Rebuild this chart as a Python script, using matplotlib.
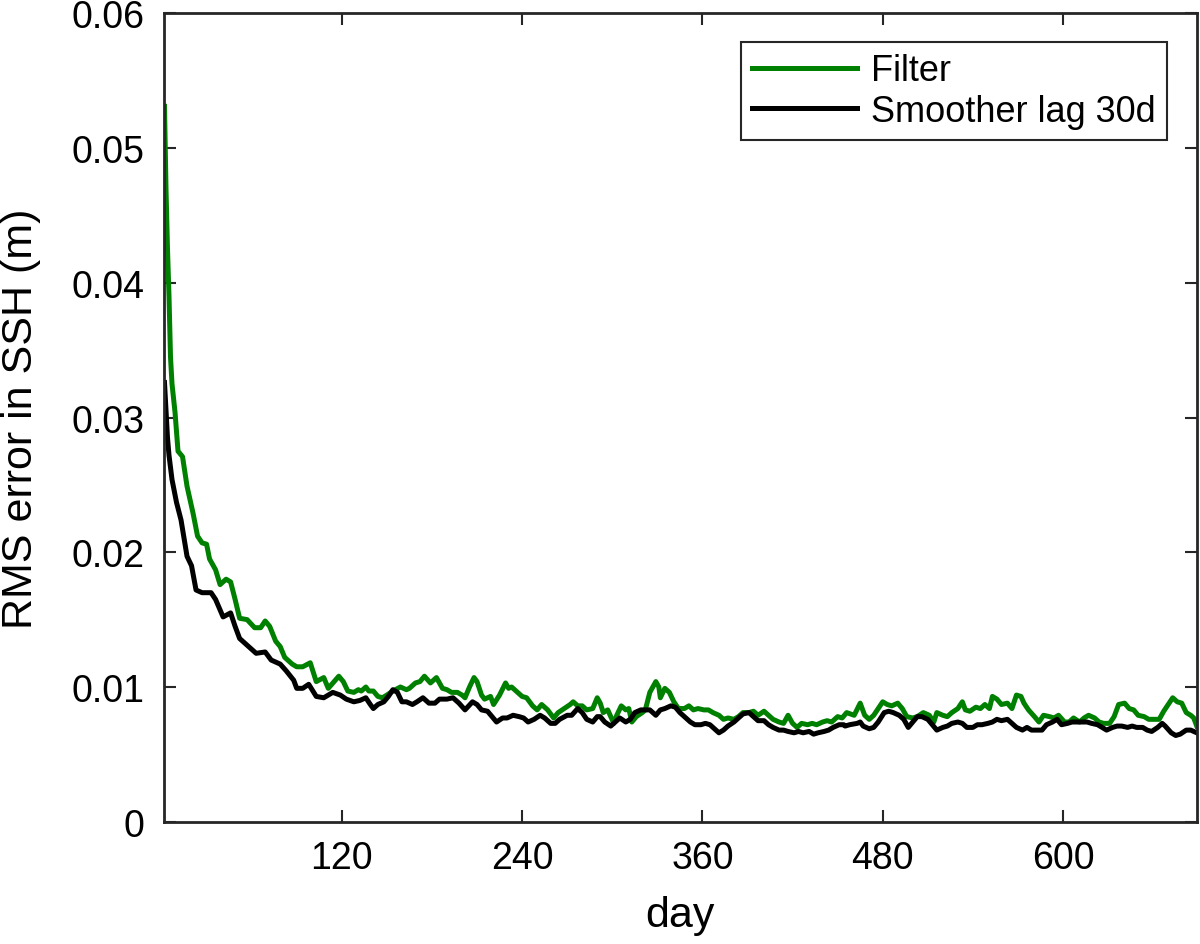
import matplotlib
matplotlib.use("Agg")
import matplotlib.pyplot as plt

plt.rcParams['font.family'] = ['Liberation Sans', 'DejaVu Sans']

# RMS error in SSH (m)
filter_days = [2, 3, 4, 5, 6, 7, 9, 11, 14, 17, 21, 24, 27, 30, 32, 36, 39, 43, 46, 49,
               52, 57, 62, 66, 69, 72, 76, 79, 82, 87, 90, 94, 99, 103, 108, 111, 118,
               121, 124, 128, 131, 133, 136, 138, 141, 144, 147, 150, 154, 159, 161, 163,
               165, 169, 172, 175, 179, 183, 187, 190, 193, 197, 200, 202, 205, 208, 210,
               213, 215, 219, 221, 225, 229, 231, 233, 237, 240, 243, 247, 250, 253, 257,
               261, 264, 268, 272, 274, 277, 280, 283, 287, 290,
               292, 294, 297, 299, 301, 303, 306, 309, 311, 313, 316, 320, 322, 325, 329,
               331, 332, 335, 338, 341, 344, 348, 351, 354, 357, 361, 364, 367, 371, 374,
               377, 381, 384, 387, 391, 394, 397, 401, 404, 407, 411, 414, 417, 420, 423,
               426, 430, 433, 436, 440, 443, 446, 450, 453, 456,
               461, 465, 468, 471, 474, 477, 480, 483, 486, 490, 493, 496, 500, 503, 507,
               511, 514, 516, 520, 523, 526, 530, 533, 535, 538, 542, 545, 548, 551, 553,
               556, 559, 563, 566, 569, 572, 574, 577, 581, 584, 587, 591, 594, 597, 601,
               604, 607, 611, 614, 617, 621, 624, 627, 631, 634, 637, 641, 644, 647, 650,
               654, 657, 660, 664, 667, 670, 673, 676, 679, 682, 685, 687, 689]
filter_rms = [0.0531, 0.0470, 0.0425, 0.0390, 0.0345, 0.0325, 0.0304, 0.0275, 0.0271, 0.0249,
              0.0229, 0.0212, 0.0207, 0.0206, 0.0195, 0.0187, 0.0176, 0.0180, 0.0178, 0.0165,
              0.0151, 0.0150, 0.0144, 0.0144, 0.0149, 0.0145, 0.0134, 0.0130, 0.0122, 0.0117,
              0.0115, 0.0115, 0.0118, 0.0104, 0.0107, 0.0099, 0.0108,
              0.0104, 0.0097, 0.0096, 0.0098, 0.0097, 0.0100, 0.0097, 0.0097, 0.0093, 0.0092,
              0.0094, 0.0097, 0.0100, 0.0099, 0.0098, 0.0099, 0.0103, 0.0104, 0.0108, 0.0103,
              0.0107, 0.0099, 0.0098, 0.0096, 0.0096, 0.0094, 0.0092, 0.0100, 0.0107, 0.0104,
              0.0094, 0.0091, 0.0093, 0.0087, 0.0094, 0.0103, 0.0099, 0.0100, 0.0096, 0.0093,
              0.0092, 0.0086, 0.0083, 0.0087, 0.0083, 0.0077, 0.0081, 0.0084, 0.0087, 0.0089,
              0.0086, 0.0086, 0.0083, 0.0084, 0.0092,
              0.0088, 0.0081, 0.0083, 0.0078, 0.0073, 0.0079, 0.0086, 0.0083, 0.0084, 0.0074,
              0.0078, 0.0081, 0.0083, 0.0096, 0.0104, 0.0100, 0.0092, 0.0099, 0.0096, 0.0089,
              0.0084, 0.0084, 0.0086, 0.0083, 0.0084, 0.0083, 0.0083, 0.0081, 0.0079, 0.0076,
              0.0077, 0.0076, 0.0078, 0.0081, 0.0081, 0.0082, 0.0079, 0.0082, 0.0079, 0.0076,
              0.0074, 0.0073, 0.0079, 0.0073, 0.0070, 0.0073, 0.0072, 0.0073, 0.0072, 0.0074,
              0.0075, 0.0074, 0.0078, 0.0077, 0.0081,
              0.0079, 0.0088, 0.0079, 0.0076, 0.0079, 0.0084, 0.0089, 0.0087, 0.0086, 0.0088,
              0.0084, 0.0078, 0.0077, 0.0078, 0.0081, 0.0079, 0.0074, 0.0081, 0.0079, 0.0078,
              0.0081, 0.0084, 0.0089, 0.0083, 0.0082, 0.0085, 0.0084, 0.0087, 0.0084, 0.0093,
              0.0091, 0.0087, 0.0088, 0.0084, 0.0094, 0.0093, 0.0088, 0.0083, 0.0078, 0.0074,
              0.0079, 0.0078, 0.0077, 0.0079, 0.0074, 0.0074, 0.0077, 0.0074, 0.0077, 0.0079,
              0.0077, 0.0074, 0.0073, 0.0073, 0.0078, 0.0087, 0.0088, 0.0084, 0.0083, 0.0079,
              0.0078, 0.0076, 0.0076, 0.0076, 0.0082, 0.0087, 0.0092, 0.0089, 0.0088, 0.0081,
              0.0079, 0.0077, 0.0071]

smoother_days = [2, 3, 4, 5, 7, 10, 13, 17, 20, 23, 27, 33, 36, 41, 46, 49, 52, 59, 63, 69,
                 73, 79, 83, 88, 90, 94, 98, 103, 108, 114,
                 119, 123, 128, 132, 136, 139, 141, 144, 148, 151, 154, 157, 160, 163, 167,
                 170, 174, 178, 182, 185, 190, 194, 198, 202, 207, 210, 213, 217, 220, 223,
                 227, 230, 234, 238, 241, 244, 248, 252, 255, 259, 262, 265, 270, 273, 277,
                 280, 283, 287, 290,
                 292, 295, 299, 302, 305, 309, 312, 315, 319, 322, 325, 329, 332, 335, 339,
                 342, 345, 349, 352, 355, 359, 362, 365, 368, 371, 374, 377, 381, 384, 387,
                 391, 394, 397, 401, 404, 407, 411, 414, 417, 421, 424, 427, 431, 434, 437,
                 441, 444, 447, 451, 454,
                 455, 458, 463, 465, 467, 471, 474, 477, 481, 484, 487, 491, 494, 497, 500,
                 503, 506, 510, 513, 516, 520, 523, 526, 530, 533, 536, 540, 543, 546, 550,
                 553, 556, 559, 563, 566, 569, 573, 576, 579, 583, 586, 589, 593, 596, 599,
                 603, 606, 609, 613, 616, 619, 623, 626, 629, 633, 636, 639, 643, 646, 649,
                 653, 656, 659, 663, 666, 668, 672, 675, 678, 682, 685, 689]
smoother_rms = [0.0326, 0.0306, 0.0285, 0.0272, 0.0254, 0.0237, 0.0224, 0.0197, 0.0190, 0.0172,
                0.0170, 0.0170, 0.0165, 0.0152, 0.0155, 0.0145, 0.0136, 0.0129, 0.0125, 0.0126,
                0.0120, 0.0117, 0.0112, 0.0105, 0.0099, 0.0099, 0.0102, 0.0093, 0.0092, 0.0096,
                0.0094, 0.0091, 0.0089, 0.0090, 0.0092, 0.0087, 0.0084, 0.0087, 0.0089, 0.0093,
                0.0098, 0.0096, 0.0089, 0.0089, 0.0087, 0.0089, 0.0092, 0.0088, 0.0088, 0.0091,
                0.0091, 0.0092, 0.0088, 0.0083, 0.0089, 0.0087, 0.0083, 0.0082, 0.0078, 0.0074,
                0.0077, 0.0077, 0.0079, 0.0078, 0.0077, 0.0074, 0.0076, 0.0079, 0.0077, 0.0073,
                0.0073, 0.0076, 0.0079, 0.0079, 0.0084, 0.0081, 0.0076, 0.0074, 0.0078,
                0.0078, 0.0074, 0.0071, 0.0074, 0.0077, 0.0074, 0.0076, 0.0081, 0.0083, 0.0083,
                0.0083, 0.0079, 0.0083, 0.0084, 0.0086, 0.0085, 0.0081, 0.0077, 0.0074, 0.0072,
                0.0072, 0.0073, 0.0072, 0.0069, 0.0066, 0.0068, 0.0071, 0.0074, 0.0077, 0.0080,
                0.0081, 0.0078, 0.0075, 0.0075, 0.0072, 0.0070, 0.0068, 0.0068, 0.0067, 0.0066,
                0.0067, 0.0066, 0.0067, 0.0065, 0.0066, 0.0067, 0.0068, 0.0070, 0.0072, 0.0072,
                0.0071, 0.0072, 0.0073, 0.0074, 0.0071, 0.0069, 0.0070, 0.0074, 0.0081, 0.0082,
                0.0081, 0.0079, 0.0076, 0.0070, 0.0074, 0.0078, 0.0078, 0.0076, 0.0072, 0.0068,
                0.0070, 0.0071, 0.0073, 0.0074, 0.0073, 0.0070, 0.0070, 0.0072, 0.0072, 0.0073,
                0.0074, 0.0076, 0.0075, 0.0076, 0.0073, 0.0070, 0.0068, 0.0070, 0.0068, 0.0068,
                0.0068, 0.0072, 0.0074, 0.0076, 0.0072, 0.0073, 0.0074, 0.0074, 0.0074, 0.0074,
                0.0073, 0.0072, 0.0070, 0.0068, 0.0070, 0.0071, 0.0071, 0.0070, 0.0071, 0.0070,
                0.0070, 0.0068, 0.0067, 0.0070, 0.0073, 0.0071, 0.0066, 0.0064, 0.0065, 0.0068,
                0.0068, 0.0066]

x_ticks = [120, 240, 360, 480, 600]
y_ticks = [0, 0.01, 0.02, 0.03, 0.04, 0.05, 0.06]
y_tick_labels = ["0", "0.01", "0.02", "0.03", "0.04", "0.05", "0.06"]

fig = plt.figure(figsize=(12, 9.45), dpi=100)
ax = fig.add_axes([0.1367, 0.1294, 0.8606, 0.8554])

ax.plot(filter_days, filter_rms, color='#008000', lw=3.6, label='Filter')
ax.plot(smoother_days, smoother_rms, color='black', lw=3.6, label='Smoother lag 30d')

ax.set_xlim(1.7, 689)
ax.set_ylim(0, 0.06)
ax.set_xticks(x_ticks)
ax.set_yticks(y_ticks)
ax.set_yticklabels(y_tick_labels)
ax.tick_params(direction='in', length=8.5, width=1.5, labelsize=27, color='#262626',
               top=True, right=True)
ax.tick_params(axis='x', pad=13)
ax.tick_params(axis='y', pad=14)
for s in ax.spines.values():
    s.set_linewidth(2)
    s.set_color('#262626')

ax.set_xlabel('day', fontsize=31, labelpad=14)
ax.set_ylabel('RMS error in SSH (m)', fontsize=31, labelpad=22)

leg = ax.legend(loc='upper right', bbox_to_anchor=(0.971, 0.964), borderaxespad=0,
                fontsize=26, handlelength=2.9, handletextpad=0.4, labelspacing=0.15,
                borderpad=0.3, fancybox=False, framealpha=1)
leg.get_frame().set_edgecolor('#262626')
leg.get_frame().set_linewidth(1.5)

fig.savefig('out.png', dpi=100)
